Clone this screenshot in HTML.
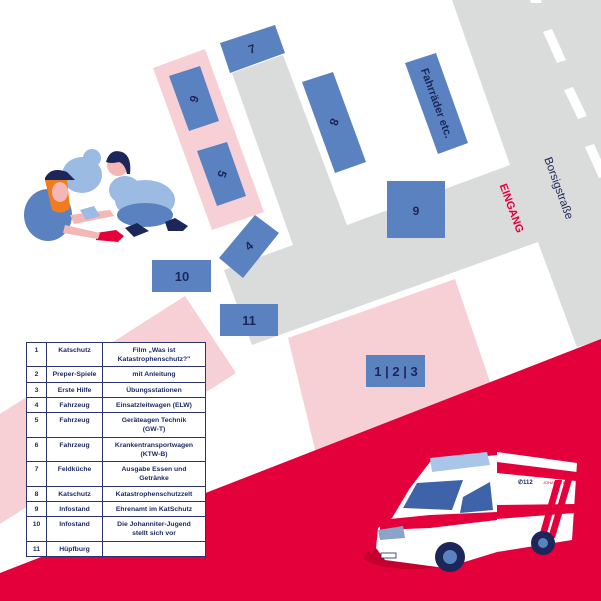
<!DOCTYPE html>
<html><head><meta charset="utf-8"><style>
html,body{margin:0;padding:0;background:#fff;}
svg{display:block;}
.t{font-family:"Liberation Sans",sans-serif;fill:#1c2659;font-weight:700;}
table{position:absolute;left:26px;top:342px;width:179px;table-layout:fixed;border-collapse:collapse;font-family:"Liberation Sans",sans-serif;font-size:6.8px;font-weight:700;color:#1f2a66;background:#fff;}
td{border:1.5px solid #2a3270;text-align:center;vertical-align:top;padding:3px 1px 0 1px;line-height:9px;overflow:hidden;}
</style></head><body>
<div style="position:relative;width:601px;height:601px;overflow:hidden;">
<svg width="601" height="601" viewBox="0 0 601 601" xmlns="http://www.w3.org/2000/svg">
<polygon points="232,73 283,55 347,225 510,165 452,0 601,0 601,601 252,345 224,270 293,245" fill="#dadbdb"/>
<polygon points="252,345 538,242 577,347 601,340 601,601 0,601 0,345" fill="#fff"/>
<polygon points="538,242 601,219 601,340 577,347" fill="#dadbdb"/>
<polygon points="530,0 541,0 542,3 531,3" fill="#fff"/>
<polygon points="543,32 552,29 566,60 557,63" fill="#fff"/>
<polygon points="564,90 573,87 587,116 578,119" fill="#fff"/>
<polygon points="585,147 594,144 608,175 599,178" fill="#fff"/>
<polygon points="153,68 205,49 264,212 212,230" fill="#f7d0d5"/>
<polygon points="185,296 236,373 0,524 0,414" fill="#f7d0d5"/>
<polygon points="288,338 455,279 520,470 320,470" fill="#f7d0d5"/>
<polygon points="0,573 601,339 601,601 0,601" fill="#e4003a"/>
<g fill="#5a82c1">
<polygon points="220,43 275,25 285,53 230,73"/>
<polygon points="169,76 200,66 219,121 189,131"/>
<polygon points="197,151 227,142 246,196 217,206"/>
<polygon points="302,82 333,72 366,162 335,173"/>
<polygon points="405,63 436,53 468,143 438,154"/>
<rect x="387" y="181" width="58" height="57"/>
<polygon points="219,258 255,215 279,233 243,278"/>
<rect x="152" y="260" width="59" height="32"/>
<rect x="220" y="304" width="58" height="32"/>
<rect x="366" y="355" width="59" height="32"/>
</g>
<g class="t" text-anchor="middle" font-size="12">
<text x="252" y="53" transform="rotate(-19 252 49)">7</text>
<text x="194" y="103" transform="rotate(110 194 99)">6</text>
<text x="222" y="178" transform="rotate(110 222 174)">5</text>
<text x="334" y="126" transform="rotate(110 334 122)">8</text>
<text x="437" y="107" font-size="11" transform="rotate(70 437 103)">Fahrräder etc.</text>
<text x="416" y="215">9</text>
<text x="249" y="250" transform="rotate(-40 249 246)">4</text>
<text x="182" y="281" font-size="13">10</text>
<text x="249" y="325" font-size="13">11</text>
<text x="396" y="376" font-size="13">1 | 2 | 3</text>
<text x="512" y="212" style="fill:#e4003a" font-size="11" transform="rotate(70 512 208)">EINGANG</text>
<text x="559" y="192" style="font-weight:400" font-size="11.5" transform="rotate(70 559 188)">Borsigstraße</text>
</g>
<g>
<ellipse cx="145" cy="200" rx="30" ry="20" fill="#9bbbe3"/>
<ellipse cx="145" cy="215" rx="28" ry="12" fill="#5a82c1"/>
<path d="M125,228 l12,-5 l12,8 l-15,6 z" fill="#1c2659"/>
<path d="M165,222 l10,-4 l13,8 l-5,5 l-15,0 z" fill="#1c2659"/>
<path d="M96,233 l20,-3 l8,6 l-6,6 l-22,-2 z" fill="#e4003a"/>
<ellipse cx="82" cy="175" rx="20" ry="18" fill="#9bbbe3"/>
<ellipse cx="92" cy="158" rx="9" ry="9" fill="#9bbbe3"/>
<ellipse cx="118" cy="165" rx="11" ry="11" fill="#f4b7b6"/>
<path d="M106,162 q4,-14 16,-10 q10,4 8,22 l-3,0 q-2,-10 -8,-12 q-8,2 -13,0 z" fill="#1c2659"/>
<ellipse cx="125" cy="190" rx="16" ry="14" fill="#9bbbe3"/>
<ellipse cx="48" cy="215" rx="24" ry="26" fill="#5a82c1"/>
<path d="M45,180 q10,-8 22,0 l3,28 q-8,8 -18,2 z" fill="#f07c1e"/>
<ellipse cx="60" cy="192" rx="8" ry="10" fill="#f4b7b6"/>
<path d="M45,178 q6,-12 22,-6 l8,8 l-30,0 z" fill="#1c2659"/>
<path d="M70,215 l40,-5 l4,6 l-40,8 z" fill="#f4b7b6"/>
<path d="M80,210 l14,-4 l6,10 l-14,4 z" fill="#9bbbe3"/>
<path d="M65,225 l35,8 l-2,6 l-35,-6 z" fill="#f4b7b6"/>
</g>
<g>
<ellipse cx="412" cy="557" rx="48" ry="12" fill="#c4002f"/>
<polygon points="497,452 577,463 572,540 497,552" fill="#fff"/>
<polygon points="497,462 577,472 576,481 497,473" fill="#e4003a"/>
<polygon points="497,505 575,504 575,513 497,519" fill="#e4003a"/>
<polygon points="555,480 562,480 545,540 538,540" fill="#e4003a"/>
<polygon points="565,480 572,480 555,538 548,538" fill="#e4003a"/>
<polygon points="430,462 497,455 497,552 445,568 385,560 376,548 378,528 392,518 410,488" fill="#fff"/>
<polygon points="430,458 487,452 490,465 432,472" fill="#a9c6ea"/>
<polygon points="403,508 417,483 463,480 452,510" fill="#3e63a8"/>
<polygon points="463,497 490,482 493,510 460,513" fill="#3e63a8"/>
<polygon points="380,520 430,515 497,512 497,520 430,528 380,530" fill="#e4003a"/>
<polygon points="378,530 403,526 405,538 380,540" fill="#8aa3c8"/>
<rect x="381" y="553" width="15" height="5" fill="#fff" stroke="#1c2659" stroke-width="0.8"/>
<circle cx="450" cy="557" r="15" fill="#1c2659"/><circle cx="450" cy="557" r="7" fill="#5a82c1"/>
<circle cx="543" cy="543" r="12" fill="#1c2659"/><circle cx="543" cy="543" r="5" fill="#5a82c1"/>
<text x="518" y="484" font-family="Liberation Sans,sans-serif" font-size="6" fill="#1f2a66" font-weight="bold">✆112</text>
<text x="543" y="484" font-family="Liberation Sans,sans-serif" font-size="4" fill="#e4003a">JOHANNITER</text>
</g>
</svg>
<table>
<colgroup><col style="width:20px"><col style="width:56px"><col style="width:103px"></colgroup>
<tr style="height:24px"><td>1</td><td>Katschutz</td><td>Film „Was ist Katastrophenschutz?"</td></tr>
<tr style="height:16px"><td>2</td><td>Preper-Spiele</td><td>mit Anleitung</td></tr>
<tr style="height:15px"><td>3</td><td>Erste Hilfe</td><td>Übungsstationen</td></tr>
<tr style="height:15px"><td>4</td><td>Fahrzeug</td><td>Einsatzleitwagen (ELW)</td></tr>
<tr style="height:25px"><td>5</td><td>Fahrzeug</td><td>Geräteagen Technik<br>(GW-T)</td></tr>
<tr style="height:24px"><td>6</td><td>Fahrzeug</td><td>Krankentransportwagen<br>(KTW-B)</td></tr>
<tr style="height:25px"><td>7</td><td>Feldküche</td><td>Ausgabe Essen und<br>Getränke</td></tr>
<tr style="height:15px"><td>8</td><td>Katschutz</td><td>Katastrophenschutzzelt</td></tr>
<tr style="height:15px"><td>9</td><td>Infostand</td><td>Ehrenamt im KatSchutz</td></tr>
<tr style="height:25px"><td>10</td><td>Infostand</td><td>Die Johanniter-Jugend<br>stellt sich vor</td></tr>
<tr style="height:15px"><td>11</td><td>Hüpfburg</td><td></td></tr>
</table>
</div>
</body></html>
